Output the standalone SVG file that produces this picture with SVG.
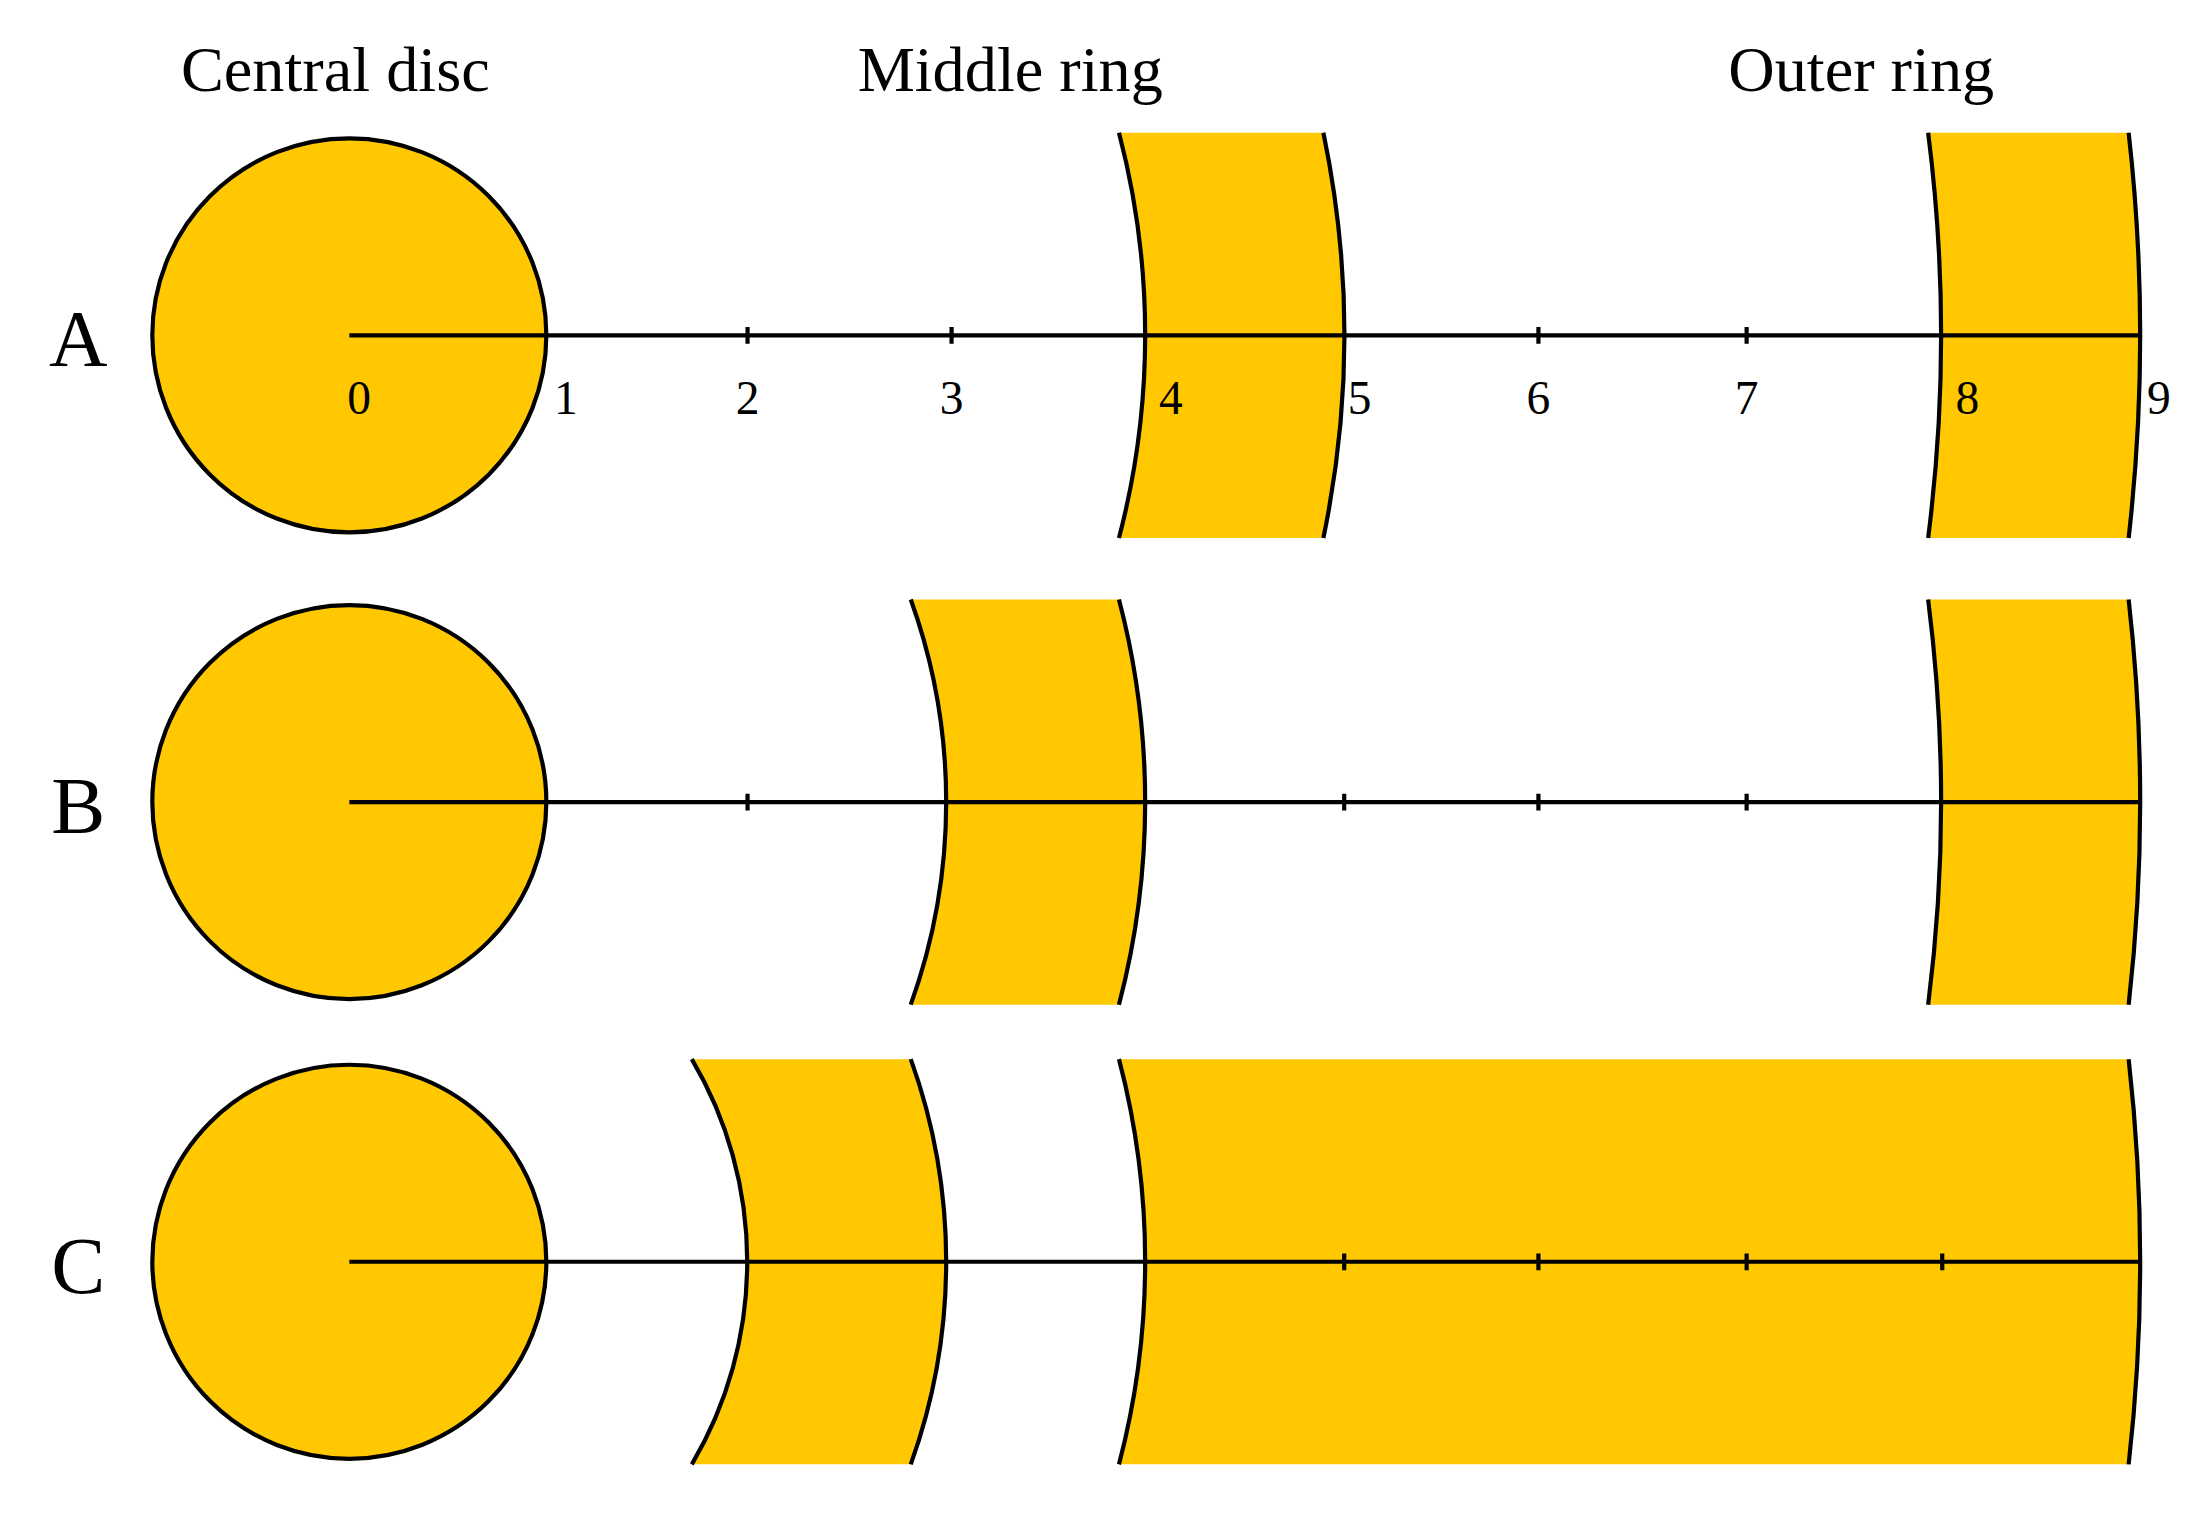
<svg xmlns="http://www.w3.org/2000/svg" width="2191" height="1525" viewBox="0 0 2191 1525">
<style>
.disc{fill:#FFC800;stroke:#000;stroke-width:3}
.fill{fill:#FFC800;stroke:none}
.arc{fill:none;stroke:#000;stroke-width:3}
.axis{stroke:#000;stroke-width:3;fill:none}
.tick{stroke:#000;stroke-width:3}
.t{font-family:"Liberation Serif",serif;fill:#000}
.title{font-size:46px;text-anchor:middle}
.row{font-size:58px;text-anchor:middle}
.num{font-size:34px;text-anchor:middle}
</style>
<rect width="2191" height="1525" fill="#fff"/>
<g transform="scale(1.3973)">
<g id="titles">
<text class="t title" x="240" y="65">Central disc</text>
<text class="t title" x="723" y="65">Middle ring</text>
<text class="t title" x="1332" y="65">Outer ring</text>
</g>
<g id="rowA">
<text class="t row" x="56" y="262">A</text>
<circle class="disc" cx="250" cy="240" r="141"/>
<path class="fill" d="M800.8,95 A569.6,569.6 0 0 1 800.8,385 L947.1,385 A712,712 0 0 0 947.1,95 Z"/>
<path class="arc" d="M800.8,95 A569.6,569.6 0 0 1 800.8,385 M947.1,95 A712,712 0 0 1 947.1,385"/>
<path class="fill" d="M1379.9,95 A1139.2,1139.2 0 0 1 1379.9,385 L1523.4,385 A1281.6,1281.6 0 0 0 1523.4,95 Z"/>
<path class="arc" d="M1379.9,95 A1139.2,1139.2 0 0 1 1379.9,385 M1523.4,95 A1281.6,1281.6 0 0 1 1523.4,385"/>
</g>
<g id="rowB">
<text class="t row" x="56" y="596">B</text>
<circle class="disc" cx="250" cy="574" r="141"/>
<path class="fill" d="M651.8,429 A427.2,427.2 0 0 1 651.8,719 L800.8,719 A569.6,569.6 0 0 0 800.8,429 Z"/>
<path class="arc" d="M651.8,429 A427.2,427.2 0 0 1 651.8,719 M800.8,429 A569.6,569.6 0 0 1 800.8,719"/>
<path class="fill" d="M1379.9,429 A1139.2,1139.2 0 0 1 1379.9,719 L1523.4,719 A1281.6,1281.6 0 0 0 1523.4,429 Z"/>
<path class="arc" d="M1379.9,429 A1139.2,1139.2 0 0 1 1379.9,719 M1523.4,429 A1281.6,1281.6 0 0 1 1523.4,719"/>
</g>
<g id="rowC">
<text class="t row" x="56" y="925">C</text>
<circle class="disc" cx="250" cy="903" r="141"/>
<path class="fill" d="M495.1,758 A284.8,284.8 0 0 1 495.1,1048 L651.8,1048 A427.2,427.2 0 0 0 651.8,758 Z"/>
<path class="arc" d="M495.1,758 A284.8,284.8 0 0 1 495.1,1048 M651.8,758 A427.2,427.2 0 0 1 651.8,1048"/>
<path class="fill" d="M800.8,758 A569.6,569.6 0 0 1 800.8,1048 L1523.4,1048 A1281.6,1281.6 0 0 0 1523.4,758 Z"/>
<path class="arc" d="M800.8,758 A569.6,569.6 0 0 1 800.8,1048 M1523.4,758 A1281.6,1281.6 0 0 1 1523.4,1048"/>
</g>
<g id="connectors">
<line class="axis" x1="250" y1="240" x2="1532" y2="240"/>
<line class="axis" x1="250" y1="574" x2="1532" y2="574"/>
<line class="axis" x1="250" y1="903" x2="1532" y2="903"/>
<path class="tick" d="M535,234v12M681,234v12M1101,234v12M1250,234v12M535,568v12M962,568v12M1101,568v12M1250,568v12M962,897v12M1101,897v12M1250,897v12M1390,897v12"/>
</g>
<g id="numbers">
<text class="t num" x="257" y="296">0</text>
<text class="t num" x="405" y="296">1</text>
<text class="t num" x="535" y="296">2</text>
<text class="t num" x="681" y="296">3</text>
<text class="t num" x="838" y="296">4</text>
<text class="t num" x="973" y="296">5</text>
<text class="t num" x="1101" y="296">6</text>
<text class="t num" x="1250" y="296">7</text>
<text class="t num" x="1408" y="296">8</text>
<text class="t num" x="1545" y="296">9</text>
</g>
</g>
</svg>
